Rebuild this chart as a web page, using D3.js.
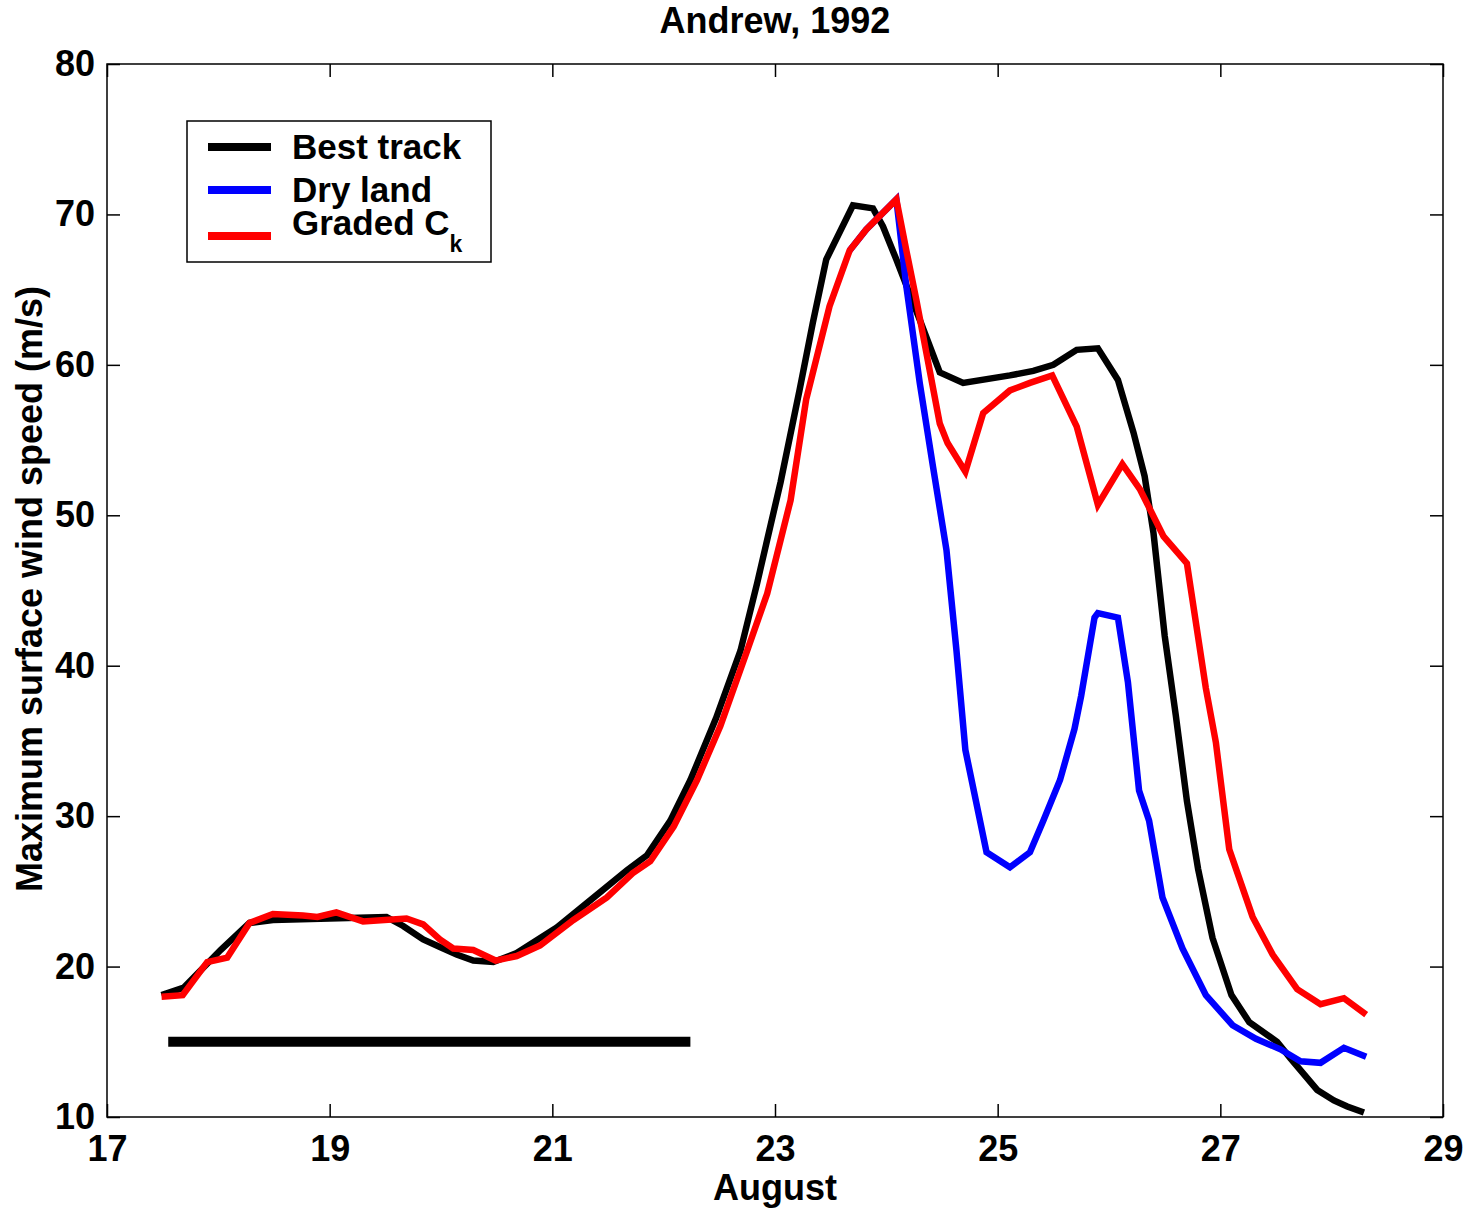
<!DOCTYPE html>
<html>
<head>
<meta charset="utf-8">
<script src="https://cdn.jsdelivr.net/npm/d3@7"></script>
<style>
  body { margin: 0; background: #fff; }
  text { font-family: "Liberation Sans", Arial, sans-serif; font-weight: bold; fill: #000; }
</style>
</head>
<body>
<svg id="chart" width="1472" height="1209"></svg>
<script>
// --- data (day of August, max surface wind m/s) ---
const bestDays = [17.49, 17.69, 18.02, 18.28, 18.49, 19.0, 19.51, 19.66, 19.84, 19.99,
  20.14, 20.29, 20.47, 20.68, 21.04, 21.34, 21.67, 21.85, 22.06, 22.24,
  22.47, 22.69, 22.84, 23.05, 23.22, 23.34, 23.46, 23.70, 23.88, 23.97,
  24.09, 24.30, 24.48, 24.69, 25.11, 25.32, 25.50, 25.71, 25.90, 26.08,
  26.22, 26.32, 26.40, 26.50, 26.60, 26.70, 26.80, 26.93,
  27.10, 27.26, 27.51, 27.63, 27.87, 28.02, 28.14, 28.29];
const bestWind = [18.1, 18.6, 21.1, 22.9, 23.1, 23.2, 23.3, 22.7, 21.8, 21.3,
  20.8, 20.4, 20.3, 20.9, 22.6, 24.4, 26.4, 27.4, 29.7, 32.4,
  36.5, 41.0, 45.5, 52.2, 58.3, 62.8, 67.0, 70.6, 70.4, 69.2,
  67.0, 63.0, 59.5, 58.8, 59.3, 59.6, 60.0, 61.0, 61.1, 59.0,
  55.5, 52.6, 48.8, 42.0, 36.7, 31.0, 26.5, 21.9,
  18.1, 16.3, 15.0, 13.9, 11.8, 11.1, 10.7, 10.3];

const gradedDays = [17.49, 17.68, 17.90, 18.08, 18.28, 18.49, 18.76, 18.89, 19.06, 19.30,
  19.69, 19.84, 19.99, 20.11, 20.29, 20.49, 20.68, 20.89, 21.19, 21.49,
  21.72, 21.88, 22.09, 22.30, 22.51, 22.75, 22.93, 23.14, 23.28, 23.49,
  23.67, 23.82, 24.09, 24.18, 24.27, 24.48, 24.55, 24.71, 24.87, 25.11,
  25.29, 25.49, 25.71, 25.90, 26.12, 26.28, 26.49, 26.70, 26.87, 26.96,
  27.08, 27.29, 27.47, 27.69, 27.90, 28.11, 28.31];
const gradedWind = [18.0, 18.1, 20.3, 20.6, 22.9, 23.5, 23.4, 23.3, 23.6, 23.0,
  23.2, 22.8, 21.8, 21.2, 21.1, 20.4, 20.7, 21.4, 23.1, 24.6,
  26.2, 27.0, 29.3, 32.4, 36.0, 41.0, 44.8, 51.0, 57.7, 63.9,
  67.6, 69.0, 71.0, 67.6, 64.3, 56.1, 54.8, 52.9, 56.8, 58.3,
  58.8, 59.3, 55.9, 50.7, 53.4, 51.7, 48.6, 46.8, 38.5, 34.9,
  27.8, 23.3, 20.8, 18.5, 17.5, 17.9, 16.8];

// dry land follows graded Ck until the peak, then splits off
const dryDays = [23.67, 23.82, 24.09, 24.18, 24.30, 24.42, 24.54, 24.63, 24.71, 24.90,
  25.11, 25.29, 25.41, 25.56, 25.69, 25.75, 25.87, 25.90, 26.08, 26.17,
  26.27, 26.36, 26.48, 26.66, 26.87, 27.11, 27.32, 27.54, 27.72, 27.90,
  28.11, 28.31];
const dryWind = [67.6, 69.0, 71.0, 65.2, 58.8, 53.2, 47.7, 41.0, 34.4, 27.6,
  26.6, 27.6, 29.7, 32.4, 35.8, 38.0, 43.2, 43.5, 43.2, 38.9,
  31.7, 29.7, 24.6, 21.2, 18.1, 16.1, 15.2, 14.5, 13.7, 13.6,
  14.6, 14.0];

// black bar near the bottom (period marker)
const barDays = [17.55, 22.24];
const barWind = 15;

const xTicks = [17, 19, 21, 23, 25, 27, 29];
const yTicks = [10, 20, 30, 40, 50, 60, 70, 80];

const seriesNames = ["Best track", "Dry land", "Graded C"];
const seriesColors = ["#000000", "#0000ff", "#ff0000"];

// --- layout ---
const PLOT = { left: 107, right: 1443, top: 64, bottom: 1117 };
const FONT = 36;

const svg = d3.select("#chart");

const x = d3.scaleLinear().domain([17, 29]).range([PLOT.left, PLOT.right]);
const y = d3.scaleLinear().domain([10, 80]).range([PLOT.bottom, PLOT.top]);

// title
svg.append("text")
  .attr("x", (PLOT.left + PLOT.right) / 2)
  .attr("y", 33)
  .attr("text-anchor", "middle")
  .attr("font-size", FONT)
  .text("Andrew, 1992");

// axes, ticks point inward like matlab
const TICK = 13;
svg.append("g")
  .attr("transform", `translate(0,${PLOT.bottom})`)
  .call(d3.axisBottom(x).tickValues(xTicks).tickSize(-TICK).tickPadding(18))
  .call((g) => g.select(".domain").remove());
svg.append("g")
  .attr("transform", `translate(0,${PLOT.top})`)
  .call(d3.axisTop(x).tickValues(xTicks).tickSize(-TICK).tickFormat(""))
  .call((g) => g.select(".domain").remove());
svg.append("g")
  .attr("transform", `translate(${PLOT.left},0)`)
  .call(d3.axisLeft(y).tickValues(yTicks).tickSize(-TICK).tickPadding(12))
  .call((g) => g.select(".domain").remove());
svg.append("g")
  .attr("transform", `translate(${PLOT.right},0)`)
  .call(d3.axisRight(y).tickValues(yTicks).tickSize(-TICK).tickFormat(""))
  .call((g) => g.select(".domain").remove());

svg.selectAll(".tick line").attr("stroke", "#000").attr("stroke-width", 1.5);
svg.selectAll(".tick text")
  .attr("font-size", FONT)
  .attr("font-family", "Liberation Sans, Arial, sans-serif")
  .attr("font-weight", "bold")
  .attr("fill", "#000");

svg.append("rect")
  .attr("x", PLOT.left)
  .attr("y", PLOT.top)
  .attr("width", PLOT.right - PLOT.left)
  .attr("height", PLOT.bottom - PLOT.top)
  .attr("fill", "none")
  .attr("stroke", "#000")
  .attr("stroke-width", 1.5);

// axis labels
svg.append("text")
  .attr("x", (PLOT.left + PLOT.right) / 2)
  .attr("y", 1200)
  .attr("text-anchor", "middle")
  .attr("font-size", FONT)
  .text("August");

svg.append("text")
  .attr("transform", `translate(42,589) rotate(-90)`)
  .attr("text-anchor", "middle")
  .attr("font-size", FONT)
  .text("Maximum surface wind speed (m/s)");

// lines
const line = d3.line()
  .x((d) => x(d[0]))
  .y((d) => y(d[1]));

const series = [
  d3.zip(bestDays, bestWind),
  d3.zip(dryDays, dryWind),
  d3.zip(gradedDays, gradedWind),
];

svg.append("g")
  .selectAll("path")
  .data(series)
  .join("path")
  .attr("d", line)
  .attr("fill", "none")
  .attr("stroke", (d, i) => seriesColors[i])
  .attr("stroke-width", 6.5)
  .attr("stroke-linejoin", "miter")
  .attr("stroke-miterlimit", 3);

svg.append("line")
  .attr("x1", x(barDays[0]))
  .attr("x2", x(barDays[1]))
  .attr("y1", y(barWind))
  .attr("y2", y(barWind))
  .attr("stroke", "#000")
  .attr("stroke-width", 10);

// legend
const legend = svg.append("g").attr("transform", "translate(187,121)");

legend.append("rect")
  .attr("width", 304)
  .attr("height", 141)
  .attr("fill", "#fff")
  .attr("stroke", "#000")
  .attr("stroke-width", 1.5);

const rowY = [26, 69, 115];

const items = legend.selectAll(".item")
  .data(seriesNames)
  .join("g")
  .attr("class", "item")
  .attr("transform", (d, i) => `translate(0,${rowY[i]})`);

items.append("line")
  .attr("x1", 21)
  .attr("x2", 84)
  .attr("stroke", (d, i) => seriesColors[i])
  .attr("stroke-width", 8);

const labels = items.append("text")
  .attr("x", 105)
  .attr("y", (d, i) => (i === 2 ? -1 : 12))
  .attr("font-size", FONT - 1)
  .text((d) => d);

labels.filter((d, i) => i === 2)
  .append("tspan")
  .attr("dy", 17)
  .attr("font-size", 23)
  .text("k");
</script>
</body>
</html>
